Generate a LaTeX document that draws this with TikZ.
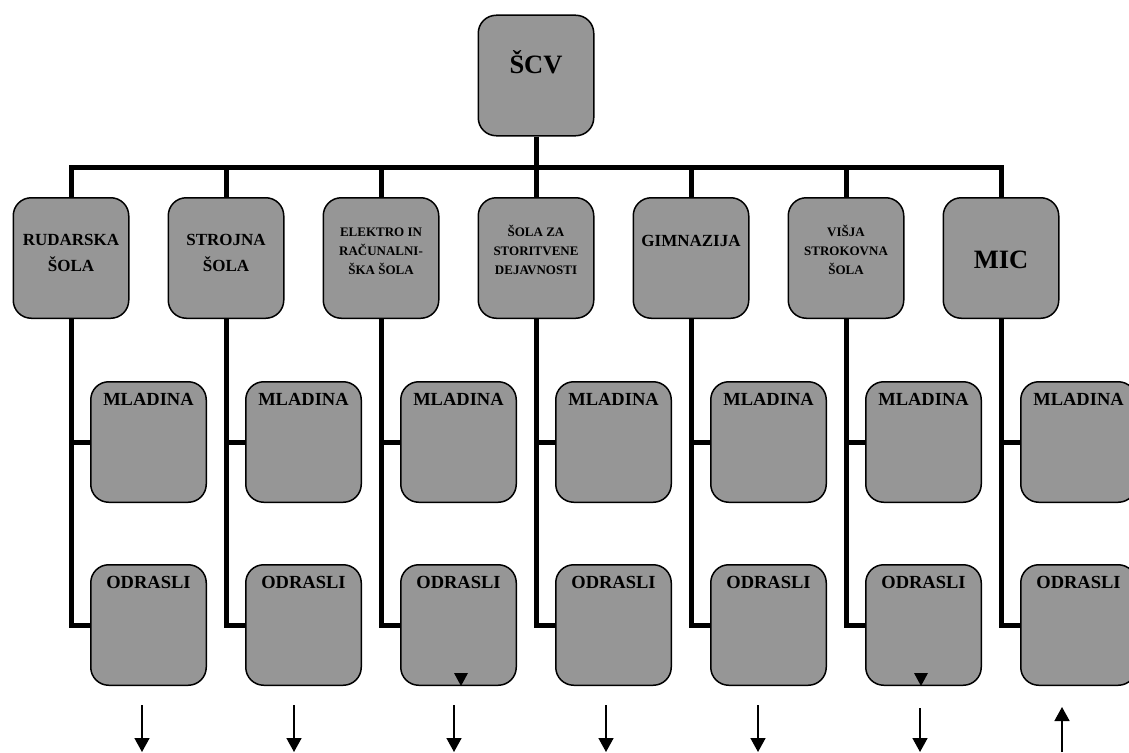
\documentclass[tikz,border=0pt]{standalone}
\usepackage{fontspec}
\setmainfont{Liberation Serif}
\usetikzlibrary{arrows.meta,positioning}
\definecolor{BoxGray}{RGB}{150,150,150}

\tikzset{
  unit/.style={draw,line width=1.5pt,fill=BoxGray,rounded corners=18pt,
    minimum width=115.5pt,minimum height=120.5pt,inner sep=0pt,align=center},
  topunit/.style={unit,font=\bfseries\fontsize{26.5}{30}\selectfont,
    text height=58.5pt,text depth=62pt},
  school/.style={unit,font=\bfseries\fontsize{17}{26}\selectfont,
    text height=74pt,text depth=46.5pt},
  oneline/.style={text height=48.5pt,text depth=72pt},
  smallschool/.style={unit,font=\bfseries\fontsize{13}{19}\selectfont,
    text height=76.5pt,text depth=44pt},
  bigschool/.style={unit,font=\bfseries\fontsize{26.5}{30}\selectfont,
    text height=70.5pt,text depth=50pt},
  group/.style={unit,font=\bfseries\fontsize{18.5}{22}\selectfont,
    text height=24pt,text depth=96.5pt},
  link/.style={line width=5pt},
  flow/.style={-{Triangle[width=15pt,length=14pt]},line width=1.6pt}
}

\begin{document}
\begin{tikzpicture}[x=1pt,y=-1pt]
  \clip (0,0) rectangle (1129,752);

  \node[topunit] (scv) at (536,75.5) {ŠCV};

  % schools
  \node[school] (s1) at (71,258) {RUDARSKA\\ŠOLA};
  \node[school] (s2) at (226,258) {STROJNA\\ŠOLA};
  \node[smallschool] (s3) at (381,258) {ELEKTRO IN\\RAČUNALNI-\\ŠKA ŠOLA};
  \node[smallschool] (s4) at (536,258) {ŠOLA ZA\\STORITVENE\\DEJAVNOSTI};
  \node[school,oneline] (s5) at (691,258) {GIMNAZIJA};
  \node[smallschool] (s6) at (846,258) {VIŠJA\\STROKOVNA\\ŠOLA};
  \node[bigschool] (s7) at (1001,258) {MIC};

  % groups
  \foreach \i in {1,...,7} {
    \node[group] (m\i) at ({148.5+155*(\i-1)},442) {MLADINA};
    \node[group] (o\i) at ({148.5+155*(\i-1)},625) {ODRASLI};
  }

  % tree lines
  \coordinate (bar) at (536,167);
  \draw[link] (scv.south) -- (bar);
  \draw[link] (s1.north) |- (bar) -| (s7.north);
  \foreach \i in {2,...,6}
    \draw[link] (s\i.north) -- (s\i.north |- bar);
  \foreach \i in {1,...,7} {
    \draw[link] (s\i.south) |- (o\i.west);
    \draw[link] (s\i.south |- m\i.west) -- (m\i.west);
  }

  \fill ([xshift=2.5pt]o3.south) -- ++(-7,-13) -- ++(14,0) -- cycle;
  \fill ([xshift=-2.5pt]o6.south) -- ++(-7,-13) -- ++(14,0) -- cycle;

  % arrows below
  \foreach \x/\y [count=\k] in {142/705,294/705,454/705,606/705,758/705,920/708} {
    \coordinate (from\k) at (\x,\y);
    \coordinate (to\k) at (\x,752);
    \draw[flow] (from\k) -- (to\k);
  }
  \coordinate (upfrom) at (1062,752);
  \coordinate (upto) at (1062,707);
  \draw[flow] (upfrom) -- (upto);
\end{tikzpicture}
\end{document}
